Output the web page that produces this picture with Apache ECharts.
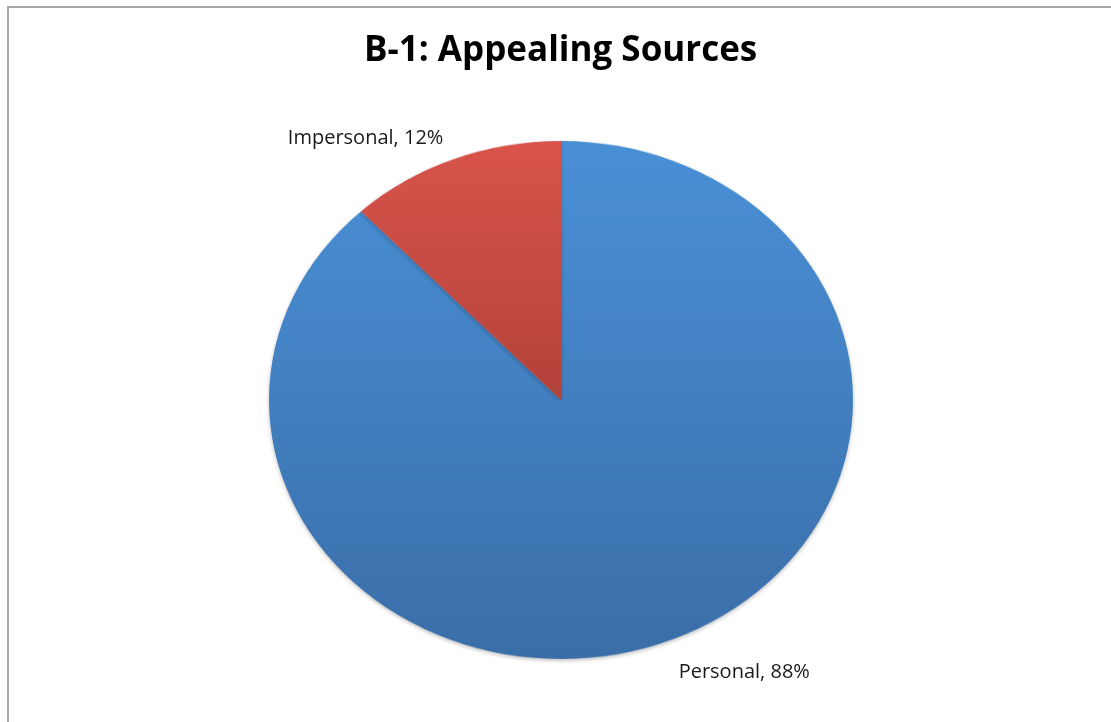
<!DOCTYPE html>
<html>
<head>
<meta charset="utf-8">
<title>B-1: Appealing Sources</title>
<script src="https://cdn.jsdelivr.net/npm/echarts@6/dist/echarts.min.js"></script>
<style>
  html, body { margin: 0; padding: 0; background: #fff; }
  #wrap { position: relative; width: 1111px; height: 722px; overflow: hidden; }
  #main, #pie { position: absolute; left: 0; top: 0; width: 1111px; height: 722px; }
  /* Excel draws the pie as an ellipse, so squash the pie layer vertically */
  #pie { transform: scaleY(0.887); transform-origin: 561px 400px; }
</style>
</head>
<body>
<div id="wrap">
  <div id="pie"></div>
  <div id="main"></div>
</div>
<script>
const titleText = "B-1: Appealing Sources";
const categories = ["Personal", "Impersonal"];
const percents = [88, 12];

const seriesData = categories.map((name, i) => ({ name: name, value: percents[i] }));

// slice fills: top-to-bottom gradients like the Excel style
const sliceColors = [
  new echarts.graphic.LinearGradient(0, 0, 0, 1, [
    { offset: 0, color: "#4a90d7" },
    { offset: 1, color: "#3a6ea8" }
  ]),
  new echarts.graphic.LinearGradient(0, 0, 0, 1, [
    { offset: 0, color: "#d9544b" },
    { offset: 1, color: "#b2423a" }
  ])
];

const pieChart = echarts.init(document.getElementById("pie"));
pieChart.setOption({
  animation: false,
  series: [
    {
      type: "pie",
      center: [561, 400],
      radius: 292,
      startAngle: 90,
      clockwise: true,
      silent: true,
      label: { show: false },
      labelLine: { show: false },
      itemStyle: {
        color: params => sliceColors[params.dataIndex],
        shadowColor: "rgba(0,0,0,0.25)",
        shadowBlur: 4,
        shadowOffsetY: 2
      },
      data: seriesData
    }
  ]
});

// title, frame and data labels on an unscaled layer
const mainChart = echarts.init(document.getElementById("main"));
mainChart.setOption({
  animation: false,
  title: {
    text: titleText,
    left: 359,
    top: 29,
    textStyle: {
      fontFamily: "Open Sans",
      fontWeight: "bold",
      fontSize: 35,
      color: "#000"
    }
  },
  graphic: [
    {
      type: "rect",
      shape: { x: 8, y: 7, width: 1200, height: 800 },
      style: { fill: "transparent", stroke: "#a6a6a6", lineWidth: 2 },
      silent: true
    }
  ],
  series: [
    {
      // invisible copy of the pie, only used to place the data labels
      type: "pie",
      center: [561, 405],
      radius: 287,
      startAngle: 90,
      clockwise: true,
      silent: true,
      itemStyle: { color: "rgba(0,0,0,0)" },
      label: {
        show: true,
        position: "outside",
        formatter: "{b}, {c}%",
        fontFamily: "Open Sans",
        fontSize: 20,
        color: "#1a1a1a"
      },
      labelLine: { show: false, length: 0, length2: 7 },
      data: seriesData
    }
  ]
});
</script>
</body>
</html>
